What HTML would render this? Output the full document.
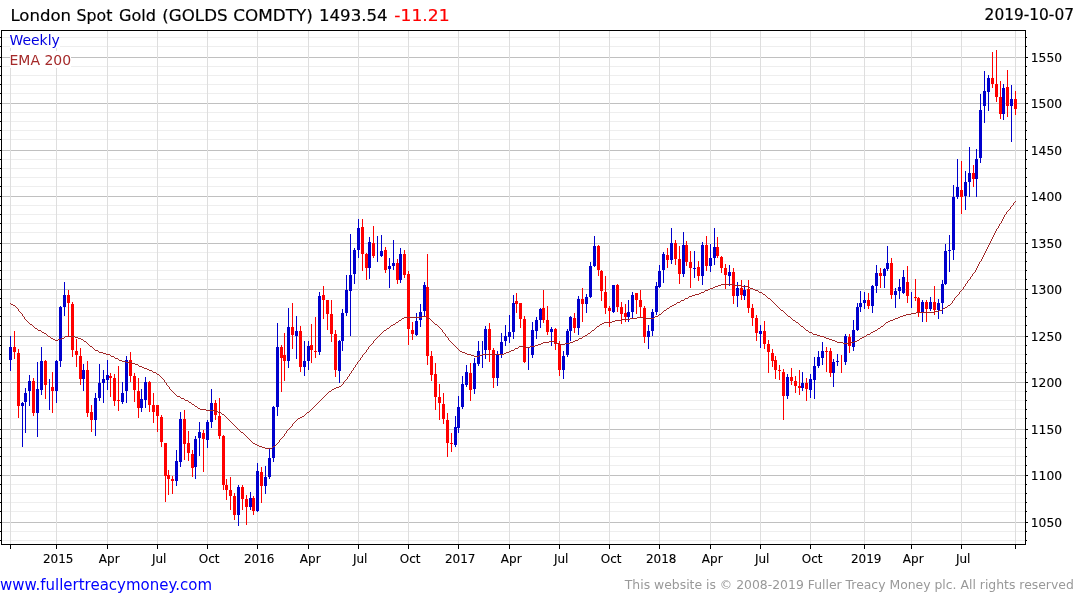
<!DOCTYPE html>
<html><head><meta charset="utf-8"><title>London Spot Gold</title>
<style>html,body{margin:0;padding:0;background:#fff}body{width:1075px;height:600px;overflow:hidden}svg{display:block}text{font-family:"DejaVu Sans", "Liberation Sans", sans-serif}</style></head><body>
<svg width="1075" height="600" viewBox="0 0 1075 600">
<rect width="1075" height="600" fill="#fff"/>
<g shape-rendering="crispEdges">
<rect x="2" y="37" width="1023" height="1" fill="#eeeeee"/>
<rect x="2" y="46" width="1023" height="1" fill="#eeeeee"/>
<rect x="2" y="66" width="1023" height="1" fill="#eeeeee"/>
<rect x="2" y="75" width="1023" height="1" fill="#eeeeee"/>
<rect x="2" y="84" width="1023" height="1" fill="#eeeeee"/>
<rect x="2" y="93" width="1023" height="1" fill="#eeeeee"/>
<rect x="2" y="112" width="1023" height="1" fill="#eeeeee"/>
<rect x="2" y="121" width="1023" height="1" fill="#eeeeee"/>
<rect x="2" y="130" width="1023" height="1" fill="#eeeeee"/>
<rect x="2" y="139" width="1023" height="1" fill="#eeeeee"/>
<rect x="2" y="159" width="1023" height="1" fill="#eeeeee"/>
<rect x="2" y="168" width="1023" height="1" fill="#eeeeee"/>
<rect x="2" y="177" width="1023" height="1" fill="#eeeeee"/>
<rect x="2" y="186" width="1023" height="1" fill="#eeeeee"/>
<rect x="2" y="205" width="1023" height="1" fill="#eeeeee"/>
<rect x="2" y="214" width="1023" height="1" fill="#eeeeee"/>
<rect x="2" y="223" width="1023" height="1" fill="#eeeeee"/>
<rect x="2" y="232" width="1023" height="1" fill="#eeeeee"/>
<rect x="2" y="252" width="1023" height="1" fill="#eeeeee"/>
<rect x="2" y="261" width="1023" height="1" fill="#eeeeee"/>
<rect x="2" y="270" width="1023" height="1" fill="#eeeeee"/>
<rect x="2" y="279" width="1023" height="1" fill="#eeeeee"/>
<rect x="2" y="298" width="1023" height="1" fill="#eeeeee"/>
<rect x="2" y="307" width="1023" height="1" fill="#eeeeee"/>
<rect x="2" y="316" width="1023" height="1" fill="#eeeeee"/>
<rect x="2" y="325" width="1023" height="1" fill="#eeeeee"/>
<rect x="2" y="345" width="1023" height="1" fill="#eeeeee"/>
<rect x="2" y="354" width="1023" height="1" fill="#eeeeee"/>
<rect x="2" y="363" width="1023" height="1" fill="#eeeeee"/>
<rect x="2" y="372" width="1023" height="1" fill="#eeeeee"/>
<rect x="2" y="391" width="1023" height="1" fill="#eeeeee"/>
<rect x="2" y="400" width="1023" height="1" fill="#eeeeee"/>
<rect x="2" y="409" width="1023" height="1" fill="#eeeeee"/>
<rect x="2" y="418" width="1023" height="1" fill="#eeeeee"/>
<rect x="2" y="438" width="1023" height="1" fill="#eeeeee"/>
<rect x="2" y="447" width="1023" height="1" fill="#eeeeee"/>
<rect x="2" y="456" width="1023" height="1" fill="#eeeeee"/>
<rect x="2" y="465" width="1023" height="1" fill="#eeeeee"/>
<rect x="2" y="484" width="1023" height="1" fill="#eeeeee"/>
<rect x="2" y="493" width="1023" height="1" fill="#eeeeee"/>
<rect x="2" y="502" width="1023" height="1" fill="#eeeeee"/>
<rect x="2" y="511" width="1023" height="1" fill="#eeeeee"/>
<rect x="2" y="531" width="1023" height="1" fill="#eeeeee"/>
<rect x="2" y="540" width="1023" height="1" fill="#eeeeee"/>
<rect x="2" y="57" width="1023" height="1" fill="#c0c0c0"/>
<rect x="2" y="103" width="1023" height="1" fill="#c0c0c0"/>
<rect x="2" y="150" width="1023" height="1" fill="#c0c0c0"/>
<rect x="2" y="196" width="1023" height="1" fill="#c0c0c0"/>
<rect x="2" y="243" width="1023" height="1" fill="#c0c0c0"/>
<rect x="2" y="289" width="1023" height="1" fill="#c0c0c0"/>
<rect x="2" y="336" width="1023" height="1" fill="#c0c0c0"/>
<rect x="2" y="382" width="1023" height="1" fill="#c0c0c0"/>
<rect x="2" y="429" width="1023" height="1" fill="#c0c0c0"/>
<rect x="2" y="475" width="1023" height="1" fill="#c0c0c0"/>
<rect x="2" y="522" width="1023" height="1" fill="#c0c0c0"/>
<rect x="10" y="31" width="1" height="513" fill="#dedede"/>
<rect x="56" y="31" width="1" height="513" fill="#dedede"/>
<rect x="107" y="31" width="1" height="513" fill="#dedede"/>
<rect x="157" y="31" width="1" height="513" fill="#dedede"/>
<rect x="207" y="31" width="1" height="513" fill="#dedede"/>
<rect x="257" y="31" width="1" height="513" fill="#dedede"/>
<rect x="308" y="31" width="1" height="513" fill="#dedede"/>
<rect x="358" y="31" width="1" height="513" fill="#dedede"/>
<rect x="408" y="31" width="1" height="513" fill="#dedede"/>
<rect x="458" y="31" width="1" height="513" fill="#dedede"/>
<rect x="509" y="31" width="1" height="513" fill="#dedede"/>
<rect x="559" y="31" width="1" height="513" fill="#dedede"/>
<rect x="609" y="31" width="1" height="513" fill="#dedede"/>
<rect x="659" y="31" width="1" height="513" fill="#dedede"/>
<rect x="710" y="31" width="1" height="513" fill="#dedede"/>
<rect x="760" y="31" width="1" height="513" fill="#dedede"/>
<rect x="810" y="31" width="1" height="513" fill="#dedede"/>
<rect x="864" y="31" width="1" height="513" fill="#dedede"/>
<rect x="911" y="31" width="1" height="513" fill="#dedede"/>
<rect x="961" y="31" width="1" height="513" fill="#dedede"/>
<rect x="1015" y="31" width="1" height="513" fill="#dedede"/>
</g>
<rect x="10" y="31" width="50" height="17" fill="#fff"/>
<rect x="10" y="51" width="61" height="17" fill="#fff"/>
<g shape-rendering="crispEdges">
<rect x="10" y="336" width="1" height="35" fill="#0000cd"/>
<rect x="9" y="347" width="3" height="13" fill="#0000cd"/>
<rect x="14" y="331" width="1" height="28" fill="#ff0000"/>
<rect x="13" y="347" width="3" height="5" fill="#ff0000"/>
<rect x="18" y="349" width="1" height="69" fill="#ff0000"/>
<rect x="17" y="353" width="3" height="53" fill="#ff0000"/>
<rect x="22" y="402" width="1" height="45" fill="#0000cd"/>
<rect x="21" y="403" width="3" height="3" fill="#0000cd"/>
<rect x="25" y="388" width="1" height="45" fill="#0000cd"/>
<rect x="24" y="393" width="3" height="9" fill="#0000cd"/>
<rect x="29" y="375" width="1" height="31" fill="#0000cd"/>
<rect x="28" y="381" width="3" height="10" fill="#0000cd"/>
<rect x="33" y="378" width="1" height="38" fill="#ff0000"/>
<rect x="32" y="381" width="3" height="32" fill="#ff0000"/>
<rect x="37" y="362" width="1" height="75" fill="#0000cd"/>
<rect x="36" y="389" width="3" height="24" fill="#0000cd"/>
<rect x="41" y="347" width="1" height="48" fill="#0000cd"/>
<rect x="40" y="361" width="3" height="29" fill="#0000cd"/>
<rect x="45" y="360" width="1" height="39" fill="#ff0000"/>
<rect x="44" y="361" width="3" height="24" fill="#ff0000"/>
<rect x="49" y="379" width="1" height="31" fill="#0000cd"/>
<rect x="52" y="372" width="1" height="41" fill="#ff0000"/>
<rect x="51" y="387" width="3" height="4" fill="#ff0000"/>
<rect x="56" y="360" width="1" height="43" fill="#0000cd"/>
<rect x="55" y="361" width="3" height="30" fill="#0000cd"/>
<rect x="60" y="306" width="1" height="61" fill="#0000cd"/>
<rect x="59" y="307" width="3" height="54" fill="#0000cd"/>
<rect x="64" y="282" width="1" height="34" fill="#0000cd"/>
<rect x="63" y="295" width="3" height="12" fill="#0000cd"/>
<rect x="68" y="290" width="1" height="46" fill="#ff0000"/>
<rect x="67" y="295" width="3" height="8" fill="#ff0000"/>
<rect x="72" y="302" width="1" height="55" fill="#ff0000"/>
<rect x="71" y="304" width="3" height="46" fill="#ff0000"/>
<rect x="76" y="339" width="1" height="28" fill="#ff0000"/>
<rect x="75" y="351" width="3" height="4" fill="#ff0000"/>
<rect x="80" y="348" width="1" height="37" fill="#ff0000"/>
<rect x="79" y="356" width="3" height="23" fill="#ff0000"/>
<rect x="83" y="364" width="1" height="27" fill="#0000cd"/>
<rect x="82" y="370" width="3" height="9" fill="#0000cd"/>
<rect x="87" y="361" width="1" height="56" fill="#ff0000"/>
<rect x="86" y="370" width="3" height="43" fill="#ff0000"/>
<rect x="91" y="405" width="1" height="27" fill="#ff0000"/>
<rect x="90" y="412" width="3" height="8" fill="#ff0000"/>
<rect x="95" y="393" width="1" height="43" fill="#0000cd"/>
<rect x="94" y="398" width="3" height="22" fill="#0000cd"/>
<rect x="99" y="364" width="1" height="37" fill="#0000cd"/>
<rect x="98" y="383" width="3" height="15" fill="#0000cd"/>
<rect x="103" y="370" width="1" height="33" fill="#0000cd"/>
<rect x="102" y="379" width="3" height="4" fill="#0000cd"/>
<rect x="107" y="360" width="1" height="30" fill="#0000cd"/>
<rect x="106" y="375" width="3" height="5" fill="#0000cd"/>
<rect x="110" y="373" width="1" height="24" fill="#ff0000"/>
<rect x="109" y="376" width="3" height="2" fill="#ff0000"/>
<rect x="114" y="374" width="1" height="32" fill="#ff0000"/>
<rect x="113" y="378" width="3" height="23" fill="#ff0000"/>
<rect x="118" y="366" width="1" height="45" fill="#ff0000"/>
<rect x="117" y="400" width="3" height="1" fill="#ff0000"/>
<rect x="122" y="382" width="1" height="22" fill="#0000cd"/>
<rect x="121" y="393" width="3" height="9" fill="#0000cd"/>
<rect x="126" y="356" width="1" height="47" fill="#0000cd"/>
<rect x="125" y="360" width="3" height="31" fill="#0000cd"/>
<rect x="130" y="352" width="1" height="30" fill="#ff0000"/>
<rect x="129" y="360" width="3" height="16" fill="#ff0000"/>
<rect x="134" y="373" width="1" height="29" fill="#ff0000"/>
<rect x="133" y="376" width="3" height="14" fill="#ff0000"/>
<rect x="138" y="378" width="1" height="40" fill="#ff0000"/>
<rect x="137" y="391" width="3" height="17" fill="#ff0000"/>
<rect x="141" y="389" width="1" height="23" fill="#0000cd"/>
<rect x="140" y="399" width="3" height="9" fill="#0000cd"/>
<rect x="145" y="377" width="1" height="31" fill="#0000cd"/>
<rect x="144" y="382" width="3" height="18" fill="#0000cd"/>
<rect x="149" y="381" width="1" height="31" fill="#ff0000"/>
<rect x="148" y="382" width="3" height="23" fill="#ff0000"/>
<rect x="153" y="393" width="1" height="30" fill="#ff0000"/>
<rect x="152" y="405" width="3" height="7" fill="#ff0000"/>
<rect x="157" y="405" width="1" height="27" fill="#ff0000"/>
<rect x="156" y="405" width="3" height="11" fill="#ff0000"/>
<rect x="161" y="415" width="1" height="32" fill="#ff0000"/>
<rect x="160" y="417" width="3" height="25" fill="#ff0000"/>
<rect x="165" y="443" width="1" height="59" fill="#ff0000"/>
<rect x="164" y="443" width="3" height="33" fill="#ff0000"/>
<rect x="168" y="470" width="1" height="25" fill="#ff0000"/>
<rect x="167" y="475" width="3" height="4" fill="#ff0000"/>
<rect x="172" y="476" width="1" height="18" fill="#ff0000"/>
<rect x="171" y="479" width="3" height="2" fill="#ff0000"/>
<rect x="176" y="450" width="1" height="36" fill="#0000cd"/>
<rect x="175" y="461" width="3" height="20" fill="#0000cd"/>
<rect x="180" y="412" width="1" height="55" fill="#0000cd"/>
<rect x="179" y="419" width="3" height="43" fill="#0000cd"/>
<rect x="184" y="410" width="1" height="50" fill="#ff0000"/>
<rect x="183" y="419" width="3" height="25" fill="#ff0000"/>
<rect x="188" y="431" width="1" height="30" fill="#ff0000"/>
<rect x="187" y="443" width="3" height="10" fill="#ff0000"/>
<rect x="192" y="450" width="1" height="27" fill="#ff0000"/>
<rect x="191" y="454" width="3" height="14" fill="#ff0000"/>
<rect x="195" y="436" width="1" height="43" fill="#0000cd"/>
<rect x="194" y="439" width="3" height="28" fill="#0000cd"/>
<rect x="199" y="422" width="1" height="34" fill="#0000cd"/>
<rect x="198" y="432" width="3" height="6" fill="#0000cd"/>
<rect x="203" y="430" width="1" height="42" fill="#ff0000"/>
<rect x="202" y="433" width="3" height="6" fill="#ff0000"/>
<rect x="207" y="420" width="1" height="28" fill="#0000cd"/>
<rect x="206" y="422" width="3" height="18" fill="#0000cd"/>
<rect x="211" y="389" width="1" height="39" fill="#0000cd"/>
<rect x="210" y="403" width="3" height="19" fill="#0000cd"/>
<rect x="215" y="400" width="1" height="20" fill="#ff0000"/>
<rect x="214" y="403" width="3" height="12" fill="#ff0000"/>
<rect x="219" y="398" width="1" height="41" fill="#ff0000"/>
<rect x="218" y="416" width="3" height="20" fill="#ff0000"/>
<rect x="223" y="435" width="1" height="55" fill="#ff0000"/>
<rect x="222" y="436" width="3" height="49" fill="#ff0000"/>
<rect x="226" y="479" width="1" height="21" fill="#ff0000"/>
<rect x="225" y="485" width="3" height="5" fill="#ff0000"/>
<rect x="230" y="477" width="1" height="33" fill="#ff0000"/>
<rect x="229" y="490" width="3" height="6" fill="#ff0000"/>
<rect x="234" y="493" width="1" height="27" fill="#ff0000"/>
<rect x="233" y="496" width="3" height="19" fill="#ff0000"/>
<rect x="238" y="485" width="1" height="41" fill="#0000cd"/>
<rect x="237" y="487" width="3" height="28" fill="#0000cd"/>
<rect x="242" y="485" width="1" height="25" fill="#ff0000"/>
<rect x="241" y="487" width="3" height="12" fill="#ff0000"/>
<rect x="246" y="495" width="1" height="30" fill="#ff0000"/>
<rect x="245" y="499" width="3" height="8" fill="#ff0000"/>
<rect x="250" y="492" width="1" height="18" fill="#0000cd"/>
<rect x="249" y="498" width="3" height="9" fill="#0000cd"/>
<rect x="253" y="496" width="1" height="19" fill="#ff0000"/>
<rect x="252" y="498" width="3" height="13" fill="#ff0000"/>
<rect x="257" y="463" width="1" height="49" fill="#0000cd"/>
<rect x="256" y="471" width="3" height="40" fill="#0000cd"/>
<rect x="261" y="467" width="1" height="36" fill="#ff0000"/>
<rect x="260" y="472" width="3" height="14" fill="#ff0000"/>
<rect x="265" y="466" width="1" height="28" fill="#0000cd"/>
<rect x="264" y="477" width="3" height="9" fill="#0000cd"/>
<rect x="269" y="448" width="1" height="31" fill="#0000cd"/>
<rect x="268" y="458" width="3" height="19" fill="#0000cd"/>
<rect x="273" y="406" width="1" height="56" fill="#0000cd"/>
<rect x="272" y="407" width="3" height="51" fill="#0000cd"/>
<rect x="277" y="323" width="1" height="93" fill="#0000cd"/>
<rect x="276" y="347" width="3" height="60" fill="#0000cd"/>
<rect x="281" y="345" width="1" height="47" fill="#ff0000"/>
<rect x="280" y="347" width="3" height="11" fill="#ff0000"/>
<rect x="284" y="333" width="1" height="48" fill="#ff0000"/>
<rect x="283" y="355" width="3" height="6" fill="#ff0000"/>
<rect x="288" y="308" width="1" height="60" fill="#0000cd"/>
<rect x="287" y="327" width="3" height="34" fill="#0000cd"/>
<rect x="292" y="303" width="1" height="46" fill="#ff0000"/>
<rect x="291" y="327" width="3" height="8" fill="#ff0000"/>
<rect x="296" y="316" width="1" height="43" fill="#0000cd"/>
<rect x="295" y="331" width="3" height="5" fill="#0000cd"/>
<rect x="300" y="326" width="1" height="46" fill="#ff0000"/>
<rect x="299" y="331" width="3" height="36" fill="#ff0000"/>
<rect x="304" y="341" width="1" height="35" fill="#0000cd"/>
<rect x="303" y="361" width="3" height="6" fill="#0000cd"/>
<rect x="308" y="341" width="1" height="29" fill="#0000cd"/>
<rect x="307" y="346" width="3" height="15" fill="#0000cd"/>
<rect x="311" y="324" width="1" height="39" fill="#ff0000"/>
<rect x="310" y="345" width="3" height="5" fill="#ff0000"/>
<rect x="315" y="317" width="1" height="41" fill="#ff0000"/>
<rect x="314" y="351" width="3" height="1" fill="#ff0000"/>
<rect x="319" y="292" width="1" height="63" fill="#0000cd"/>
<rect x="318" y="296" width="3" height="56" fill="#0000cd"/>
<rect x="323" y="286" width="1" height="33" fill="#ff0000"/>
<rect x="322" y="295" width="3" height="5" fill="#ff0000"/>
<rect x="327" y="300" width="1" height="30" fill="#ff0000"/>
<rect x="326" y="300" width="3" height="14" fill="#ff0000"/>
<rect x="331" y="300" width="1" height="42" fill="#ff0000"/>
<rect x="330" y="314" width="3" height="20" fill="#ff0000"/>
<rect x="335" y="330" width="1" height="47" fill="#ff0000"/>
<rect x="334" y="334" width="3" height="36" fill="#ff0000"/>
<rect x="339" y="340" width="1" height="43" fill="#0000cd"/>
<rect x="338" y="341" width="3" height="30" fill="#0000cd"/>
<rect x="342" y="309" width="1" height="42" fill="#0000cd"/>
<rect x="341" y="313" width="3" height="28" fill="#0000cd"/>
<rect x="346" y="275" width="1" height="41" fill="#0000cd"/>
<rect x="345" y="290" width="3" height="23" fill="#0000cd"/>
<rect x="350" y="234" width="1" height="102" fill="#0000cd"/>
<rect x="349" y="275" width="3" height="16" fill="#0000cd"/>
<rect x="354" y="248" width="1" height="36" fill="#0000cd"/>
<rect x="353" y="250" width="3" height="24" fill="#0000cd"/>
<rect x="358" y="219" width="1" height="39" fill="#0000cd"/>
<rect x="357" y="228" width="3" height="22" fill="#0000cd"/>
<rect x="362" y="219" width="1" height="52" fill="#ff0000"/>
<rect x="361" y="227" width="3" height="27" fill="#ff0000"/>
<rect x="366" y="253" width="1" height="27" fill="#ff0000"/>
<rect x="365" y="254" width="3" height="14" fill="#ff0000"/>
<rect x="369" y="237" width="1" height="42" fill="#0000cd"/>
<rect x="368" y="242" width="3" height="26" fill="#0000cd"/>
<rect x="373" y="226" width="1" height="32" fill="#ff0000"/>
<rect x="372" y="243" width="3" height="13" fill="#ff0000"/>
<rect x="377" y="236" width="1" height="26" fill="#0000cd"/>
<rect x="381" y="235" width="1" height="22" fill="#0000cd"/>
<rect x="380" y="251" width="3" height="5" fill="#0000cd"/>
<rect x="385" y="247" width="1" height="26" fill="#ff0000"/>
<rect x="384" y="250" width="3" height="20" fill="#ff0000"/>
<rect x="389" y="258" width="1" height="30" fill="#0000cd"/>
<rect x="388" y="266" width="3" height="3" fill="#0000cd"/>
<rect x="393" y="240" width="1" height="30" fill="#0000cd"/>
<rect x="392" y="263" width="3" height="3" fill="#0000cd"/>
<rect x="397" y="259" width="1" height="25" fill="#ff0000"/>
<rect x="396" y="263" width="3" height="17" fill="#ff0000"/>
<rect x="400" y="248" width="1" height="35" fill="#0000cd"/>
<rect x="399" y="254" width="3" height="26" fill="#0000cd"/>
<rect x="404" y="250" width="1" height="28" fill="#ff0000"/>
<rect x="403" y="254" width="3" height="21" fill="#ff0000"/>
<rect x="408" y="271" width="1" height="74" fill="#ff0000"/>
<rect x="407" y="274" width="3" height="55" fill="#ff0000"/>
<rect x="412" y="322" width="1" height="18" fill="#ff0000"/>
<rect x="411" y="330" width="3" height="4" fill="#ff0000"/>
<rect x="416" y="313" width="1" height="23" fill="#0000cd"/>
<rect x="415" y="321" width="3" height="14" fill="#0000cd"/>
<rect x="420" y="304" width="1" height="23" fill="#0000cd"/>
<rect x="419" y="312" width="3" height="8" fill="#0000cd"/>
<rect x="424" y="282" width="1" height="34" fill="#0000cd"/>
<rect x="423" y="285" width="3" height="26" fill="#0000cd"/>
<rect x="427" y="254" width="1" height="111" fill="#ff0000"/>
<rect x="426" y="287" width="3" height="69" fill="#ff0000"/>
<rect x="431" y="351" width="1" height="30" fill="#ff0000"/>
<rect x="430" y="356" width="3" height="19" fill="#ff0000"/>
<rect x="435" y="363" width="1" height="47" fill="#ff0000"/>
<rect x="434" y="374" width="3" height="23" fill="#ff0000"/>
<rect x="439" y="384" width="1" height="36" fill="#ff0000"/>
<rect x="438" y="397" width="3" height="6" fill="#ff0000"/>
<rect x="443" y="393" width="1" height="31" fill="#ff0000"/>
<rect x="442" y="404" width="3" height="15" fill="#ff0000"/>
<rect x="447" y="413" width="1" height="44" fill="#ff0000"/>
<rect x="446" y="420" width="3" height="23" fill="#ff0000"/>
<rect x="451" y="433" width="1" height="19" fill="#ff0000"/>
<rect x="450" y="443" width="3" height="1" fill="#ff0000"/>
<rect x="455" y="416" width="1" height="31" fill="#0000cd"/>
<rect x="454" y="427" width="3" height="18" fill="#0000cd"/>
<rect x="458" y="396" width="1" height="37" fill="#0000cd"/>
<rect x="457" y="407" width="3" height="21" fill="#0000cd"/>
<rect x="462" y="376" width="1" height="33" fill="#0000cd"/>
<rect x="461" y="384" width="3" height="23" fill="#0000cd"/>
<rect x="466" y="365" width="1" height="22" fill="#0000cd"/>
<rect x="465" y="372" width="3" height="13" fill="#0000cd"/>
<rect x="470" y="363" width="1" height="38" fill="#ff0000"/>
<rect x="469" y="373" width="3" height="17" fill="#ff0000"/>
<rect x="474" y="358" width="1" height="36" fill="#0000cd"/>
<rect x="473" y="363" width="3" height="26" fill="#0000cd"/>
<rect x="478" y="341" width="1" height="25" fill="#0000cd"/>
<rect x="477" y="351" width="3" height="13" fill="#0000cd"/>
<rect x="482" y="341" width="1" height="27" fill="#0000cd"/>
<rect x="485" y="326" width="1" height="33" fill="#0000cd"/>
<rect x="484" y="329" width="3" height="21" fill="#0000cd"/>
<rect x="489" y="323" width="1" height="39" fill="#ff0000"/>
<rect x="488" y="329" width="3" height="21" fill="#ff0000"/>
<rect x="493" y="348" width="1" height="40" fill="#ff0000"/>
<rect x="492" y="350" width="3" height="28" fill="#ff0000"/>
<rect x="497" y="351" width="1" height="35" fill="#0000cd"/>
<rect x="496" y="354" width="3" height="24" fill="#0000cd"/>
<rect x="501" y="333" width="1" height="25" fill="#0000cd"/>
<rect x="500" y="342" width="3" height="12" fill="#0000cd"/>
<rect x="505" y="325" width="1" height="21" fill="#0000cd"/>
<rect x="504" y="336" width="3" height="5" fill="#0000cd"/>
<rect x="509" y="315" width="1" height="28" fill="#0000cd"/>
<rect x="508" y="332" width="3" height="5" fill="#0000cd"/>
<rect x="513" y="295" width="1" height="44" fill="#0000cd"/>
<rect x="512" y="303" width="3" height="29" fill="#0000cd"/>
<rect x="516" y="293" width="1" height="20" fill="#ff0000"/>
<rect x="515" y="301" width="3" height="3" fill="#ff0000"/>
<rect x="520" y="303" width="1" height="25" fill="#ff0000"/>
<rect x="519" y="303" width="3" height="16" fill="#ff0000"/>
<rect x="524" y="316" width="1" height="47" fill="#ff0000"/>
<rect x="523" y="319" width="3" height="43" fill="#ff0000"/>
<rect x="528" y="347" width="1" height="23" fill="#0000cd"/>
<rect x="532" y="322" width="1" height="36" fill="#0000cd"/>
<rect x="531" y="330" width="3" height="25" fill="#0000cd"/>
<rect x="536" y="317" width="1" height="22" fill="#0000cd"/>
<rect x="535" y="320" width="3" height="11" fill="#0000cd"/>
<rect x="540" y="308" width="1" height="20" fill="#0000cd"/>
<rect x="539" y="309" width="3" height="11" fill="#0000cd"/>
<rect x="543" y="290" width="1" height="33" fill="#ff0000"/>
<rect x="542" y="308" width="3" height="12" fill="#ff0000"/>
<rect x="547" y="306" width="1" height="29" fill="#ff0000"/>
<rect x="546" y="320" width="3" height="12" fill="#ff0000"/>
<rect x="551" y="327" width="1" height="19" fill="#0000cd"/>
<rect x="550" y="329" width="3" height="3" fill="#0000cd"/>
<rect x="555" y="328" width="1" height="22" fill="#ff0000"/>
<rect x="554" y="329" width="3" height="15" fill="#ff0000"/>
<rect x="559" y="341" width="1" height="35" fill="#ff0000"/>
<rect x="558" y="344" width="3" height="26" fill="#ff0000"/>
<rect x="563" y="351" width="1" height="28" fill="#0000cd"/>
<rect x="562" y="356" width="3" height="14" fill="#0000cd"/>
<rect x="567" y="329" width="1" height="28" fill="#0000cd"/>
<rect x="566" y="331" width="3" height="24" fill="#0000cd"/>
<rect x="570" y="316" width="1" height="25" fill="#0000cd"/>
<rect x="569" y="317" width="3" height="14" fill="#0000cd"/>
<rect x="574" y="313" width="1" height="20" fill="#ff0000"/>
<rect x="573" y="318" width="3" height="10" fill="#ff0000"/>
<rect x="578" y="296" width="1" height="39" fill="#0000cd"/>
<rect x="577" y="299" width="3" height="29" fill="#0000cd"/>
<rect x="582" y="288" width="1" height="34" fill="#ff0000"/>
<rect x="581" y="299" width="3" height="5" fill="#ff0000"/>
<rect x="586" y="294" width="1" height="19" fill="#0000cd"/>
<rect x="585" y="297" width="3" height="7" fill="#0000cd"/>
<rect x="590" y="262" width="1" height="36" fill="#0000cd"/>
<rect x="589" y="266" width="3" height="31" fill="#0000cd"/>
<rect x="594" y="236" width="1" height="31" fill="#0000cd"/>
<rect x="593" y="246" width="3" height="20" fill="#0000cd"/>
<rect x="598" y="245" width="1" height="31" fill="#ff0000"/>
<rect x="597" y="246" width="3" height="24" fill="#ff0000"/>
<rect x="601" y="270" width="1" height="31" fill="#ff0000"/>
<rect x="600" y="271" width="3" height="20" fill="#ff0000"/>
<rect x="605" y="276" width="1" height="38" fill="#ff0000"/>
<rect x="604" y="292" width="3" height="16" fill="#ff0000"/>
<rect x="609" y="306" width="1" height="21" fill="#ff0000"/>
<rect x="608" y="308" width="3" height="3" fill="#ff0000"/>
<rect x="613" y="285" width="1" height="28" fill="#0000cd"/>
<rect x="612" y="285" width="3" height="27" fill="#0000cd"/>
<rect x="617" y="284" width="1" height="28" fill="#ff0000"/>
<rect x="616" y="285" width="3" height="22" fill="#ff0000"/>
<rect x="621" y="302" width="1" height="22" fill="#ff0000"/>
<rect x="620" y="307" width="3" height="7" fill="#ff0000"/>
<rect x="625" y="304" width="1" height="18" fill="#ff0000"/>
<rect x="624" y="313" width="3" height="4" fill="#ff0000"/>
<rect x="628" y="300" width="1" height="22" fill="#0000cd"/>
<rect x="627" y="312" width="3" height="5" fill="#0000cd"/>
<rect x="632" y="292" width="1" height="26" fill="#0000cd"/>
<rect x="631" y="295" width="3" height="17" fill="#0000cd"/>
<rect x="636" y="293" width="1" height="21" fill="#ff0000"/>
<rect x="635" y="293" width="3" height="7" fill="#ff0000"/>
<rect x="640" y="290" width="1" height="28" fill="#ff0000"/>
<rect x="639" y="300" width="3" height="7" fill="#ff0000"/>
<rect x="644" y="306" width="1" height="37" fill="#ff0000"/>
<rect x="643" y="308" width="3" height="29" fill="#ff0000"/>
<rect x="648" y="325" width="1" height="24" fill="#0000cd"/>
<rect x="647" y="331" width="3" height="6" fill="#0000cd"/>
<rect x="652" y="309" width="1" height="27" fill="#0000cd"/>
<rect x="651" y="312" width="3" height="19" fill="#0000cd"/>
<rect x="656" y="282" width="1" height="33" fill="#0000cd"/>
<rect x="655" y="286" width="3" height="26" fill="#0000cd"/>
<rect x="659" y="265" width="1" height="23" fill="#0000cd"/>
<rect x="658" y="271" width="3" height="16" fill="#0000cd"/>
<rect x="663" y="252" width="1" height="31" fill="#0000cd"/>
<rect x="662" y="254" width="3" height="16" fill="#0000cd"/>
<rect x="667" y="248" width="1" height="20" fill="#ff0000"/>
<rect x="666" y="255" width="3" height="5" fill="#ff0000"/>
<rect x="671" y="228" width="1" height="36" fill="#0000cd"/>
<rect x="670" y="243" width="3" height="17" fill="#0000cd"/>
<rect x="675" y="240" width="1" height="25" fill="#ff0000"/>
<rect x="674" y="243" width="3" height="16" fill="#ff0000"/>
<rect x="679" y="246" width="1" height="38" fill="#ff0000"/>
<rect x="678" y="259" width="3" height="15" fill="#ff0000"/>
<rect x="683" y="232" width="1" height="45" fill="#0000cd"/>
<rect x="682" y="245" width="3" height="29" fill="#0000cd"/>
<rect x="686" y="241" width="1" height="25" fill="#ff0000"/>
<rect x="685" y="245" width="3" height="17" fill="#ff0000"/>
<rect x="690" y="251" width="1" height="37" fill="#ff0000"/>
<rect x="689" y="262" width="3" height="6" fill="#ff0000"/>
<rect x="694" y="251" width="1" height="27" fill="#0000cd"/>
<rect x="693" y="268" width="3" height="1" fill="#0000cd"/>
<rect x="698" y="261" width="1" height="20" fill="#ff0000"/>
<rect x="697" y="267" width="3" height="9" fill="#ff0000"/>
<rect x="702" y="242" width="1" height="43" fill="#0000cd"/>
<rect x="701" y="245" width="3" height="31" fill="#0000cd"/>
<rect x="706" y="236" width="1" height="35" fill="#ff0000"/>
<rect x="705" y="245" width="3" height="21" fill="#ff0000"/>
<rect x="710" y="244" width="1" height="28" fill="#0000cd"/>
<rect x="709" y="258" width="3" height="8" fill="#0000cd"/>
<rect x="714" y="228" width="1" height="37" fill="#0000cd"/>
<rect x="713" y="247" width="3" height="11" fill="#0000cd"/>
<rect x="717" y="237" width="1" height="21" fill="#ff0000"/>
<rect x="716" y="247" width="3" height="9" fill="#ff0000"/>
<rect x="721" y="256" width="1" height="17" fill="#ff0000"/>
<rect x="720" y="257" width="3" height="11" fill="#ff0000"/>
<rect x="725" y="264" width="1" height="25" fill="#ff0000"/>
<rect x="724" y="268" width="3" height="7" fill="#ff0000"/>
<rect x="729" y="265" width="1" height="21" fill="#0000cd"/>
<rect x="728" y="272" width="3" height="4" fill="#0000cd"/>
<rect x="733" y="268" width="1" height="36" fill="#ff0000"/>
<rect x="732" y="272" width="3" height="24" fill="#ff0000"/>
<rect x="737" y="282" width="1" height="25" fill="#0000cd"/>
<rect x="736" y="288" width="3" height="8" fill="#0000cd"/>
<rect x="741" y="280" width="1" height="20" fill="#ff0000"/>
<rect x="740" y="288" width="3" height="7" fill="#ff0000"/>
<rect x="744" y="285" width="1" height="15" fill="#0000cd"/>
<rect x="743" y="290" width="3" height="6" fill="#0000cd"/>
<rect x="748" y="280" width="1" height="33" fill="#ff0000"/>
<rect x="747" y="289" width="3" height="19" fill="#ff0000"/>
<rect x="752" y="304" width="1" height="22" fill="#ff0000"/>
<rect x="751" y="308" width="3" height="10" fill="#ff0000"/>
<rect x="756" y="315" width="1" height="26" fill="#ff0000"/>
<rect x="755" y="318" width="3" height="15" fill="#ff0000"/>
<rect x="760" y="325" width="1" height="23" fill="#0000cd"/>
<rect x="759" y="331" width="3" height="3" fill="#0000cd"/>
<rect x="764" y="321" width="1" height="28" fill="#ff0000"/>
<rect x="763" y="331" width="3" height="13" fill="#ff0000"/>
<rect x="768" y="340" width="1" height="33" fill="#ff0000"/>
<rect x="767" y="344" width="3" height="8" fill="#ff0000"/>
<rect x="772" y="349" width="1" height="18" fill="#ff0000"/>
<rect x="771" y="353" width="3" height="8" fill="#ff0000"/>
<rect x="775" y="356" width="1" height="23" fill="#ff0000"/>
<rect x="774" y="360" width="3" height="10" fill="#ff0000"/>
<rect x="779" y="365" width="1" height="15" fill="#ff0000"/>
<rect x="778" y="370" width="3" height="1" fill="#ff0000"/>
<rect x="783" y="369" width="1" height="51" fill="#ff0000"/>
<rect x="782" y="372" width="3" height="24" fill="#ff0000"/>
<rect x="787" y="374" width="1" height="25" fill="#0000cd"/>
<rect x="786" y="377" width="3" height="19" fill="#0000cd"/>
<rect x="791" y="368" width="1" height="17" fill="#ff0000"/>
<rect x="790" y="377" width="3" height="4" fill="#ff0000"/>
<rect x="795" y="376" width="1" height="17" fill="#ff0000"/>
<rect x="794" y="381" width="3" height="5" fill="#ff0000"/>
<rect x="799" y="370" width="1" height="25" fill="#ff0000"/>
<rect x="798" y="386" width="3" height="2" fill="#ff0000"/>
<rect x="802" y="372" width="1" height="19" fill="#0000cd"/>
<rect x="801" y="383" width="3" height="5" fill="#0000cd"/>
<rect x="806" y="378" width="1" height="23" fill="#ff0000"/>
<rect x="805" y="383" width="3" height="6" fill="#ff0000"/>
<rect x="810" y="374" width="1" height="24" fill="#0000cd"/>
<rect x="809" y="379" width="3" height="11" fill="#0000cd"/>
<rect x="814" y="357" width="1" height="42" fill="#0000cd"/>
<rect x="813" y="366" width="3" height="14" fill="#0000cd"/>
<rect x="818" y="351" width="1" height="17" fill="#0000cd"/>
<rect x="817" y="357" width="3" height="9" fill="#0000cd"/>
<rect x="822" y="342" width="1" height="23" fill="#0000cd"/>
<rect x="821" y="351" width="3" height="7" fill="#0000cd"/>
<rect x="826" y="347" width="1" height="25" fill="#ff0000"/>
<rect x="825" y="351" width="3" height="1" fill="#ff0000"/>
<rect x="830" y="348" width="1" height="29" fill="#ff0000"/>
<rect x="829" y="351" width="3" height="22" fill="#ff0000"/>
<rect x="833" y="359" width="1" height="28" fill="#0000cd"/>
<rect x="832" y="362" width="3" height="11" fill="#0000cd"/>
<rect x="837" y="354" width="1" height="12" fill="#0000cd"/>
<rect x="836" y="361" width="3" height="1" fill="#0000cd"/>
<rect x="841" y="355" width="1" height="18" fill="#ff0000"/>
<rect x="845" y="334" width="1" height="31" fill="#0000cd"/>
<rect x="844" y="336" width="3" height="26" fill="#0000cd"/>
<rect x="849" y="334" width="1" height="19" fill="#ff0000"/>
<rect x="848" y="337" width="3" height="9" fill="#ff0000"/>
<rect x="853" y="320" width="1" height="31" fill="#0000cd"/>
<rect x="852" y="330" width="3" height="17" fill="#0000cd"/>
<rect x="857" y="303" width="1" height="28" fill="#0000cd"/>
<rect x="856" y="307" width="3" height="23" fill="#0000cd"/>
<rect x="860" y="291" width="1" height="21" fill="#0000cd"/>
<rect x="859" y="303" width="3" height="4" fill="#0000cd"/>
<rect x="864" y="292" width="1" height="17" fill="#0000cd"/>
<rect x="863" y="300" width="3" height="3" fill="#0000cd"/>
<rect x="868" y="293" width="1" height="16" fill="#ff0000"/>
<rect x="867" y="300" width="3" height="6" fill="#ff0000"/>
<rect x="872" y="285" width="1" height="28" fill="#0000cd"/>
<rect x="871" y="286" width="3" height="20" fill="#0000cd"/>
<rect x="876" y="265" width="1" height="28" fill="#0000cd"/>
<rect x="875" y="273" width="3" height="13" fill="#0000cd"/>
<rect x="880" y="268" width="1" height="20" fill="#ff0000"/>
<rect x="879" y="273" width="3" height="3" fill="#ff0000"/>
<rect x="884" y="268" width="1" height="20" fill="#0000cd"/>
<rect x="883" y="269" width="3" height="7" fill="#0000cd"/>
<rect x="887" y="246" width="1" height="25" fill="#0000cd"/>
<rect x="886" y="263" width="3" height="6" fill="#0000cd"/>
<rect x="891" y="258" width="1" height="41" fill="#ff0000"/>
<rect x="890" y="263" width="3" height="32" fill="#ff0000"/>
<rect x="895" y="288" width="1" height="20" fill="#0000cd"/>
<rect x="894" y="291" width="3" height="4" fill="#0000cd"/>
<rect x="899" y="279" width="1" height="20" fill="#0000cd"/>
<rect x="898" y="287" width="3" height="4" fill="#0000cd"/>
<rect x="903" y="270" width="1" height="24" fill="#0000cd"/>
<rect x="902" y="277" width="3" height="16" fill="#0000cd"/>
<rect x="907" y="266" width="1" height="37" fill="#ff0000"/>
<rect x="906" y="282" width="3" height="14" fill="#ff0000"/>
<rect x="911" y="292" width="1" height="16" fill="#0000cd"/>
<rect x="915" y="279" width="1" height="22" fill="#ff0000"/>
<rect x="914" y="297" width="3" height="1" fill="#ff0000"/>
<rect x="918" y="297" width="1" height="20" fill="#ff0000"/>
<rect x="917" y="298" width="3" height="14" fill="#ff0000"/>
<rect x="922" y="300" width="1" height="22" fill="#0000cd"/>
<rect x="921" y="302" width="3" height="10" fill="#0000cd"/>
<rect x="926" y="300" width="1" height="22" fill="#ff0000"/>
<rect x="925" y="302" width="3" height="7" fill="#ff0000"/>
<rect x="930" y="297" width="1" height="14" fill="#0000cd"/>
<rect x="929" y="302" width="3" height="7" fill="#0000cd"/>
<rect x="934" y="286" width="1" height="29" fill="#ff0000"/>
<rect x="933" y="302" width="3" height="8" fill="#ff0000"/>
<rect x="938" y="299" width="1" height="20" fill="#0000cd"/>
<rect x="937" y="303" width="3" height="7" fill="#0000cd"/>
<rect x="942" y="280" width="1" height="34" fill="#0000cd"/>
<rect x="941" y="284" width="3" height="19" fill="#0000cd"/>
<rect x="945" y="244" width="1" height="41" fill="#0000cd"/>
<rect x="944" y="251" width="3" height="33" fill="#0000cd"/>
<rect x="949" y="235" width="1" height="37" fill="#0000cd"/>
<rect x="948" y="250" width="3" height="1" fill="#0000cd"/>
<rect x="953" y="185" width="1" height="75" fill="#0000cd"/>
<rect x="952" y="197" width="3" height="53" fill="#0000cd"/>
<rect x="957" y="159" width="1" height="40" fill="#0000cd"/>
<rect x="956" y="187" width="3" height="10" fill="#0000cd"/>
<rect x="961" y="161" width="1" height="53" fill="#ff0000"/>
<rect x="960" y="190" width="3" height="7" fill="#ff0000"/>
<rect x="965" y="171" width="1" height="39" fill="#0000cd"/>
<rect x="964" y="182" width="3" height="14" fill="#0000cd"/>
<rect x="969" y="147" width="1" height="50" fill="#0000cd"/>
<rect x="968" y="173" width="3" height="9" fill="#0000cd"/>
<rect x="973" y="165" width="1" height="22" fill="#ff0000"/>
<rect x="972" y="173" width="3" height="6" fill="#ff0000"/>
<rect x="976" y="149" width="1" height="48" fill="#0000cd"/>
<rect x="975" y="159" width="3" height="20" fill="#0000cd"/>
<rect x="980" y="94" width="1" height="69" fill="#0000cd"/>
<rect x="979" y="110" width="3" height="48" fill="#0000cd"/>
<rect x="984" y="71" width="1" height="52" fill="#0000cd"/>
<rect x="983" y="91" width="3" height="15" fill="#0000cd"/>
<rect x="988" y="75" width="1" height="36" fill="#0000cd"/>
<rect x="987" y="78" width="3" height="14" fill="#0000cd"/>
<rect x="992" y="52" width="1" height="36" fill="#ff0000"/>
<rect x="991" y="78" width="3" height="6" fill="#ff0000"/>
<rect x="996" y="50" width="1" height="52" fill="#ff0000"/>
<rect x="995" y="84" width="3" height="13" fill="#ff0000"/>
<rect x="1000" y="81" width="1" height="38" fill="#ff0000"/>
<rect x="999" y="97" width="3" height="17" fill="#ff0000"/>
<rect x="1003" y="84" width="1" height="36" fill="#0000cd"/>
<rect x="1002" y="88" width="3" height="26" fill="#0000cd"/>
<rect x="1007" y="70" width="1" height="47" fill="#ff0000"/>
<rect x="1006" y="87" width="3" height="19" fill="#ff0000"/>
<rect x="1011" y="85" width="1" height="57" fill="#0000cd"/>
<rect x="1010" y="99" width="3" height="7" fill="#0000cd"/>
<rect x="1015" y="91" width="1" height="24" fill="#ff0000"/>
<rect x="1014" y="99" width="3" height="10" fill="#ff0000"/>
</g>
<path d="M1015 201h1M1014 202h1M1013 203h1M1013 204h1M1012 205h1M1011 206h1M1010 207h1M1010 208h1M1009 209h1M1008 210h1M1007 211h1M1006 212h1M1006 213h1M1005 214h1M1004 215h1M1004 216h1M1003 217h1M1003 218h1M1002 219h1M1002 220h1M1001 221h1M1001 222h1M1000 223h1M999 224h1M999 225h1M998 226h1M998 227h1M997 228h1M996 229h1M996 230h1M995 231h1M995 232h1M994 233h1M994 234h1M993 235h1M993 236h1M992 237h1M992 238h1M991 239h1M991 240h1M990 241h1M990 242h1M989 243h1M989 244h1M988 245h1M988 246h1M987 247h1M987 248h1M986 249h1M986 250h1M985 251h1M985 252h1M984 253h1M984 254h1M983 255h1M983 256h1M982 257h1M982 258h1M981 259h1M981 260h1M980 261h1M979 262h1M979 263h1M978 264h1M978 265h1M977 266h1M977 267h1M976 268h1M976 269h1M975 270h1M975 271h1M974 272h1M973 273h1M972 274h1M972 275h1M971 276h1M970 277h1M970 278h1M969 279h1M968 280h1M967 281h1M967 282h1M966 283h1M721 284h14M965 284h1M718 285h3M735 285h7M965 285h1M715 286h3M742 286h6M964 286h1M713 287h2M748 287h2M963 287h1M710 288h3M750 288h3M963 288h1M708 289h2M753 289h2M962 289h1M705 290h3M755 290h3M961 290h1M704 291h1M758 291h1M960 291h1M701 292h3M759 292h3M959 292h1M699 293h2M762 293h1M959 293h1M695 294h4M763 294h2M958 294h1M692 295h3M765 295h1M957 295h1M689 296h3M766 296h1M956 296h1M688 297h1M767 297h1M955 297h1M685 298h3M768 298h2M954 298h1M684 299h1M770 299h1M954 299h1M681 300h3M771 300h1M953 300h1M680 301h1M772 301h1M952 301h1M677 302h3M773 302h1M952 302h1M10 303h1M676 303h1M774 303h1M951 303h1M11 304h2M674 304h2M775 304h1M950 304h1M13 305h2M672 305h2M776 305h1M948 305h2M15 306h1M670 306h2M777 306h1M947 306h1M16 307h1M669 307h1M778 307h1M945 307h2M17 308h1M667 308h2M779 308h1M943 308h2M18 309h1M666 309h1M780 309h1M942 309h1M18 310h1M664 310h2M781 310h2M939 310h3M19 311h1M663 311h1M783 311h1M935 311h4M20 312h1M662 312h1M784 312h1M916 312h19M21 313h1M661 313h1M785 313h1M911 313h5M22 314h1M659 314h2M786 314h1M906 314h5M22 315h1M658 315h1M787 315h1M903 315h3M23 316h1M422 316h4M655 316h3M788 316h2M900 316h3M24 317h1M404 317h18M426 317h1M637 317h6M654 317h1M790 317h1M898 317h2M24 318h1M402 318h2M427 318h3M630 318h7M643 318h11M791 318h1M895 318h3M25 319h1M401 319h1M430 319h1M622 319h8M792 319h1M893 319h2M26 320h1M399 320h2M431 320h1M615 320h7M793 320h2M890 320h3M27 321h1M398 321h1M432 321h1M612 321h3M795 321h1M888 321h2M28 322h1M396 322h2M433 322h1M604 322h8M796 322h2M886 322h2M29 323h1M395 323h1M434 323h1M602 323h2M798 323h1M885 323h1M30 324h2M393 324h2M435 324h2M600 324h2M799 324h1M884 324h1M32 325h1M391 325h2M437 325h1M599 325h1M800 325h1M883 325h1M33 326h1M390 326h1M438 326h1M597 326h2M801 326h2M881 326h2M34 327h1M389 327h1M439 327h1M596 327h1M803 327h1M880 327h1M35 328h2M387 328h2M440 328h1M595 328h1M804 328h1M878 328h2M37 329h1M386 329h1M441 329h1M594 329h1M805 329h1M877 329h1M38 330h3M384 330h2M442 330h1M592 330h2M806 330h2M875 330h2M41 331h1M383 331h1M442 331h1M591 331h1M808 331h1M873 331h2M42 332h2M382 332h1M443 332h1M590 332h1M809 332h3M871 332h2M44 333h2M381 333h1M444 333h1M588 333h2M812 333h1M870 333h1M46 334h1M380 334h1M445 334h1M587 334h1M813 334h4M867 334h3M47 335h1M379 335h1M445 335h1M585 335h2M817 335h3M866 335h1M48 336h2M65 336h10M378 336h1M446 336h1M583 336h2M820 336h4M864 336h2M50 337h1M64 337h1M75 337h3M377 337h1M447 337h1M582 337h1M824 337h2M862 337h2M51 338h2M61 338h3M78 338h3M376 338h1M448 338h1M579 338h3M826 338h3M860 338h2M53 339h2M58 339h3M81 339h2M375 339h1M448 339h1M578 339h1M829 339h3M859 339h1M55 340h3M83 340h1M374 340h1M449 340h1M575 340h3M832 340h3M857 340h2M84 341h2M373 341h1M450 341h1M549 341h5M573 341h2M835 341h2M854 341h3M86 342h1M373 342h1M451 342h1M543 342h6M554 342h3M570 342h3M837 342h6M849 342h5M87 343h1M372 343h1M452 343h1M541 343h2M557 343h2M565 343h5M843 343h6M88 344h1M371 344h1M453 344h1M538 344h3M559 344h6M89 345h1M370 345h1M454 345h1M535 345h3M90 346h2M369 346h1M455 346h1M519 346h6M530 346h5M92 347h1M368 347h1M456 347h1M518 347h1M525 347h5M93 348h1M368 348h1M457 348h1M515 348h3M94 349h1M367 349h1M458 349h1M514 349h1M95 350h3M366 350h1M459 350h1M511 350h3M98 351h1M366 351h1M460 351h2M509 351h2M99 352h4M365 352h1M462 352h3M506 352h3M103 353h3M364 353h1M465 353h2M504 353h2M106 354h4M363 354h1M467 354h4M482 354h22M110 355h1M362 355h1M471 355h3M479 355h3M111 356h3M362 356h1M474 356h5M114 357h1M361 357h1M115 358h3M360 358h1M118 359h1M360 359h1M119 360h3M359 360h1M122 361h4M358 361h1M126 362h6M357 362h1M132 363h3M357 363h1M135 364h3M356 364h1M138 365h1M355 365h1M139 366h3M355 366h1M142 367h2M354 367h1M144 368h3M353 368h1M147 369h2M353 369h1M149 370h3M352 370h1M152 371h1M351 371h1M153 372h3M351 372h1M156 373h1M350 373h1M157 374h2M349 374h1M159 375h1M349 375h1M160 376h1M348 376h1M161 377h1M347 377h1M162 378h1M347 378h1M163 379h1M346 379h1M164 380h1M345 380h1M164 381h1M344 381h1M165 382h1M343 382h1M166 383h1M343 383h1M166 384h1M342 384h1M167 385h1M341 385h1M168 386h1M339 386h2M169 387h1M336 387h3M169 388h1M334 388h2M170 389h1M332 389h2M171 390h1M331 390h1M172 391h1M329 391h2M173 392h1M328 392h1M174 393h1M327 393h1M175 394h1M326 394h1M176 395h1M325 395h1M177 396h3M324 396h1M180 397h1M323 397h1M181 398h3M322 398h1M184 399h1M321 399h1M185 400h3M320 400h1M188 401h1M319 401h1M189 402h2M318 402h1M191 403h1M317 403h1M192 404h2M316 404h1M194 405h1M315 405h1M195 406h2M314 406h1M197 407h1M313 407h1M198 408h2M312 408h1M200 409h6M311 409h1M206 410h9M310 410h1M215 411h3M309 411h1M218 412h3M307 412h2M221 413h1M306 413h1M222 414h2M305 414h1M224 415h1M304 415h1M225 416h1M302 416h2M226 417h1M300 417h2M227 418h1M298 418h2M228 419h1M297 419h1M229 420h1M296 420h1M230 421h1M295 421h1M231 422h1M294 422h1M232 423h1M293 423h1M233 424h1M292 424h1M234 425h1M292 425h1M235 426h1M291 426h1M236 427h1M290 427h1M237 428h1M289 428h1M238 429h1M288 429h1M239 430h1M287 430h1M240 431h1M286 431h1M241 432h2M286 432h1M243 433h1M285 433h1M244 434h1M284 434h1M245 435h1M284 435h1M246 436h1M283 436h1M247 437h1M282 437h1M248 438h1M281 438h1M249 439h1M280 439h1M250 440h1M279 440h1M251 441h1M279 441h1M252 442h1M278 442h1M253 443h2M277 443h1M255 444h2M276 444h1M257 445h2M275 445h1M259 446h3M273 446h2M262 447h3M272 447h1M265 448h7" transform="translate(0,0.5)" fill="none" stroke="#a02626" stroke-width="1" shape-rendering="crispEdges"/>
<g shape-rendering="crispEdges" fill="#000">
<rect x="1" y="30" width="1025" height="1"/>
<rect x="1" y="544" width="1025" height="1"/>
<rect x="1" y="30" width="1" height="515"/>
<rect x="1025" y="30" width="1" height="515"/>
<rect x="0" y="37" width="1" height="1"/>
<rect x="1026" y="37" width="1" height="1"/>
<rect x="0" y="46" width="1" height="1"/>
<rect x="1026" y="46" width="1" height="1"/>
<rect x="0" y="66" width="1" height="1"/>
<rect x="1026" y="66" width="1" height="1"/>
<rect x="0" y="75" width="1" height="1"/>
<rect x="1026" y="75" width="1" height="1"/>
<rect x="0" y="84" width="1" height="1"/>
<rect x="1026" y="84" width="1" height="1"/>
<rect x="0" y="93" width="1" height="1"/>
<rect x="1026" y="93" width="1" height="1"/>
<rect x="0" y="112" width="1" height="1"/>
<rect x="1026" y="112" width="1" height="1"/>
<rect x="0" y="121" width="1" height="1"/>
<rect x="1026" y="121" width="1" height="1"/>
<rect x="0" y="130" width="1" height="1"/>
<rect x="1026" y="130" width="1" height="1"/>
<rect x="0" y="139" width="1" height="1"/>
<rect x="1026" y="139" width="1" height="1"/>
<rect x="0" y="159" width="1" height="1"/>
<rect x="1026" y="159" width="1" height="1"/>
<rect x="0" y="168" width="1" height="1"/>
<rect x="1026" y="168" width="1" height="1"/>
<rect x="0" y="177" width="1" height="1"/>
<rect x="1026" y="177" width="1" height="1"/>
<rect x="0" y="186" width="1" height="1"/>
<rect x="1026" y="186" width="1" height="1"/>
<rect x="0" y="205" width="1" height="1"/>
<rect x="1026" y="205" width="1" height="1"/>
<rect x="0" y="214" width="1" height="1"/>
<rect x="1026" y="214" width="1" height="1"/>
<rect x="0" y="223" width="1" height="1"/>
<rect x="1026" y="223" width="1" height="1"/>
<rect x="0" y="232" width="1" height="1"/>
<rect x="1026" y="232" width="1" height="1"/>
<rect x="0" y="252" width="1" height="1"/>
<rect x="1026" y="252" width="1" height="1"/>
<rect x="0" y="261" width="1" height="1"/>
<rect x="1026" y="261" width="1" height="1"/>
<rect x="0" y="270" width="1" height="1"/>
<rect x="1026" y="270" width="1" height="1"/>
<rect x="0" y="279" width="1" height="1"/>
<rect x="1026" y="279" width="1" height="1"/>
<rect x="0" y="298" width="1" height="1"/>
<rect x="1026" y="298" width="1" height="1"/>
<rect x="0" y="307" width="1" height="1"/>
<rect x="1026" y="307" width="1" height="1"/>
<rect x="0" y="316" width="1" height="1"/>
<rect x="1026" y="316" width="1" height="1"/>
<rect x="0" y="325" width="1" height="1"/>
<rect x="1026" y="325" width="1" height="1"/>
<rect x="0" y="345" width="1" height="1"/>
<rect x="1026" y="345" width="1" height="1"/>
<rect x="0" y="354" width="1" height="1"/>
<rect x="1026" y="354" width="1" height="1"/>
<rect x="0" y="363" width="1" height="1"/>
<rect x="1026" y="363" width="1" height="1"/>
<rect x="0" y="372" width="1" height="1"/>
<rect x="1026" y="372" width="1" height="1"/>
<rect x="0" y="391" width="1" height="1"/>
<rect x="1026" y="391" width="1" height="1"/>
<rect x="0" y="400" width="1" height="1"/>
<rect x="1026" y="400" width="1" height="1"/>
<rect x="0" y="409" width="1" height="1"/>
<rect x="1026" y="409" width="1" height="1"/>
<rect x="0" y="418" width="1" height="1"/>
<rect x="1026" y="418" width="1" height="1"/>
<rect x="0" y="438" width="1" height="1"/>
<rect x="1026" y="438" width="1" height="1"/>
<rect x="0" y="447" width="1" height="1"/>
<rect x="1026" y="447" width="1" height="1"/>
<rect x="0" y="456" width="1" height="1"/>
<rect x="1026" y="456" width="1" height="1"/>
<rect x="0" y="465" width="1" height="1"/>
<rect x="1026" y="465" width="1" height="1"/>
<rect x="0" y="484" width="1" height="1"/>
<rect x="1026" y="484" width="1" height="1"/>
<rect x="0" y="493" width="1" height="1"/>
<rect x="1026" y="493" width="1" height="1"/>
<rect x="0" y="502" width="1" height="1"/>
<rect x="1026" y="502" width="1" height="1"/>
<rect x="0" y="511" width="1" height="1"/>
<rect x="1026" y="511" width="1" height="1"/>
<rect x="0" y="531" width="1" height="1"/>
<rect x="1026" y="531" width="1" height="1"/>
<rect x="0" y="540" width="1" height="1"/>
<rect x="1026" y="540" width="1" height="1"/>
<rect x="0" y="57" width="1" height="1"/>
<rect x="1026" y="57" width="2" height="1"/>
<rect x="0" y="103" width="1" height="1"/>
<rect x="1026" y="103" width="2" height="1"/>
<rect x="0" y="150" width="1" height="1"/>
<rect x="1026" y="150" width="2" height="1"/>
<rect x="0" y="196" width="1" height="1"/>
<rect x="1026" y="196" width="2" height="1"/>
<rect x="0" y="243" width="1" height="1"/>
<rect x="1026" y="243" width="2" height="1"/>
<rect x="0" y="289" width="1" height="1"/>
<rect x="1026" y="289" width="2" height="1"/>
<rect x="0" y="336" width="1" height="1"/>
<rect x="1026" y="336" width="2" height="1"/>
<rect x="0" y="382" width="1" height="1"/>
<rect x="1026" y="382" width="2" height="1"/>
<rect x="0" y="429" width="1" height="1"/>
<rect x="1026" y="429" width="2" height="1"/>
<rect x="0" y="475" width="1" height="1"/>
<rect x="1026" y="475" width="2" height="1"/>
<rect x="0" y="522" width="1" height="1"/>
<rect x="1026" y="522" width="2" height="1"/>
<rect x="10" y="545" width="1" height="4"/>
<rect x="56" y="545" width="1" height="4"/>
<rect x="107" y="545" width="1" height="4"/>
<rect x="157" y="545" width="1" height="4"/>
<rect x="207" y="545" width="1" height="4"/>
<rect x="257" y="545" width="1" height="4"/>
<rect x="308" y="545" width="1" height="4"/>
<rect x="358" y="545" width="1" height="4"/>
<rect x="408" y="545" width="1" height="4"/>
<rect x="458" y="545" width="1" height="4"/>
<rect x="509" y="545" width="1" height="4"/>
<rect x="559" y="545" width="1" height="4"/>
<rect x="609" y="545" width="1" height="4"/>
<rect x="659" y="545" width="1" height="4"/>
<rect x="710" y="545" width="1" height="4"/>
<rect x="760" y="545" width="1" height="4"/>
<rect x="810" y="545" width="1" height="4"/>
<rect x="864" y="545" width="1" height="4"/>
<rect x="911" y="545" width="1" height="4"/>
<rect x="961" y="545" width="1" height="4"/>
<rect x="1015" y="545" width="1" height="4"/>
</g>
<text x="10.40" y="21.00" font-size="16.6" fill="#000" stroke="#000" stroke-width="0.2" textLength="60.60" lengthAdjust="spacingAndGlyphs">London</text>
<text x="76.60" y="21.00" font-size="16.6" fill="#000" stroke="#000" stroke-width="0.2" textLength="35.80" lengthAdjust="spacingAndGlyphs">Spot</text>
<text x="119.00" y="21.00" font-size="16.6" fill="#000" stroke="#000" stroke-width="0.2" textLength="37.00" lengthAdjust="spacingAndGlyphs">Gold</text>
<text x="162.30" y="21.00" font-size="16.6" fill="#000" stroke="#000" stroke-width="0.2" textLength="65.30" lengthAdjust="spacingAndGlyphs">(GOLDS</text>
<text x="233.30" y="21.00" font-size="16.6" fill="#000" stroke="#000" stroke-width="0.2" textLength="79.50" lengthAdjust="spacingAndGlyphs">COMDTY)</text>
<text x="319.00" y="21.00" font-size="16.6" fill="#000" stroke="#000" stroke-width="0.2" textLength="68.60" lengthAdjust="spacingAndGlyphs">1493.54</text>
<text x="394.30" y="21.00" font-size="16.6" fill="#ff0000" stroke="#ff0000" stroke-width="0.2" textLength="55.30" lengthAdjust="spacingAndGlyphs">-11.21</text>
<text x="984.60" y="20.00" font-size="15" fill="#000" stroke="#000" stroke-width="0.2" textLength="89.40" lengthAdjust="spacingAndGlyphs">2019-10-07</text>
<text x="9.40" y="45.00" font-size="13.5" fill="#0000e0" textLength="50.40" lengthAdjust="spacingAndGlyphs">Weekly</text>
<text x="9.50" y="65.00" font-size="13.5" fill="#a52a2a" textLength="61.60" lengthAdjust="spacingAndGlyphs">EMA 200</text>
<text x="1030.80" y="62.00" font-size="12" fill="#000" stroke="#000" stroke-width="0.12" textLength="31.20" lengthAdjust="spacingAndGlyphs">1550</text>
<text x="1030.80" y="108.00" font-size="12" fill="#000" stroke="#000" stroke-width="0.12" textLength="31.20" lengthAdjust="spacingAndGlyphs">1500</text>
<text x="1030.80" y="155.00" font-size="12" fill="#000" stroke="#000" stroke-width="0.12" textLength="31.20" lengthAdjust="spacingAndGlyphs">1450</text>
<text x="1030.80" y="201.00" font-size="12" fill="#000" stroke="#000" stroke-width="0.12" textLength="31.20" lengthAdjust="spacingAndGlyphs">1400</text>
<text x="1030.80" y="248.00" font-size="12" fill="#000" stroke="#000" stroke-width="0.12" textLength="31.20" lengthAdjust="spacingAndGlyphs">1350</text>
<text x="1030.80" y="294.00" font-size="12" fill="#000" stroke="#000" stroke-width="0.12" textLength="31.20" lengthAdjust="spacingAndGlyphs">1300</text>
<text x="1030.80" y="341.00" font-size="12" fill="#000" stroke="#000" stroke-width="0.12" textLength="31.20" lengthAdjust="spacingAndGlyphs">1250</text>
<text x="1030.80" y="387.00" font-size="12" fill="#000" stroke="#000" stroke-width="0.12" textLength="31.20" lengthAdjust="spacingAndGlyphs">1200</text>
<text x="1030.80" y="434.00" font-size="12" fill="#000" stroke="#000" stroke-width="0.12" textLength="31.20" lengthAdjust="spacingAndGlyphs">1150</text>
<text x="1030.80" y="480.00" font-size="12" fill="#000" stroke="#000" stroke-width="0.12" textLength="31.20" lengthAdjust="spacingAndGlyphs">1100</text>
<text x="1030.80" y="527.00" font-size="12" fill="#000" stroke="#000" stroke-width="0.12" textLength="31.20" lengthAdjust="spacingAndGlyphs">1050</text>
<text x="58.20" y="563.00" font-size="12" fill="#000" text-anchor="middle" stroke="#000" stroke-width="0.12">2015</text>
<text x="109.20" y="563.00" font-size="12" fill="#000" text-anchor="middle" stroke="#000" stroke-width="0.12">Apr</text>
<text x="159.20" y="563.00" font-size="12" fill="#000" text-anchor="middle" stroke="#000" stroke-width="0.12">Jul</text>
<text x="209.20" y="563.00" font-size="12" fill="#000" text-anchor="middle" stroke="#000" stroke-width="0.12">Oct</text>
<text x="259.20" y="563.00" font-size="12" fill="#000" text-anchor="middle" stroke="#000" stroke-width="0.12">2016</text>
<text x="310.20" y="563.00" font-size="12" fill="#000" text-anchor="middle" stroke="#000" stroke-width="0.12">Apr</text>
<text x="360.20" y="563.00" font-size="12" fill="#000" text-anchor="middle" stroke="#000" stroke-width="0.12">Jul</text>
<text x="410.20" y="563.00" font-size="12" fill="#000" text-anchor="middle" stroke="#000" stroke-width="0.12">Oct</text>
<text x="460.20" y="563.00" font-size="12" fill="#000" text-anchor="middle" stroke="#000" stroke-width="0.12">2017</text>
<text x="511.20" y="563.00" font-size="12" fill="#000" text-anchor="middle" stroke="#000" stroke-width="0.12">Apr</text>
<text x="561.20" y="563.00" font-size="12" fill="#000" text-anchor="middle" stroke="#000" stroke-width="0.12">Jul</text>
<text x="611.20" y="563.00" font-size="12" fill="#000" text-anchor="middle" stroke="#000" stroke-width="0.12">Oct</text>
<text x="661.20" y="563.00" font-size="12" fill="#000" text-anchor="middle" stroke="#000" stroke-width="0.12">2018</text>
<text x="712.20" y="563.00" font-size="12" fill="#000" text-anchor="middle" stroke="#000" stroke-width="0.12">Apr</text>
<text x="762.20" y="563.00" font-size="12" fill="#000" text-anchor="middle" stroke="#000" stroke-width="0.12">Jul</text>
<text x="812.20" y="563.00" font-size="12" fill="#000" text-anchor="middle" stroke="#000" stroke-width="0.12">Oct</text>
<text x="866.20" y="563.00" font-size="12" fill="#000" text-anchor="middle" stroke="#000" stroke-width="0.12">2019</text>
<text x="913.20" y="563.00" font-size="12" fill="#000" text-anchor="middle" stroke="#000" stroke-width="0.12">Apr</text>
<text x="963.20" y="563.00" font-size="12" fill="#000" text-anchor="middle" stroke="#000" stroke-width="0.12">Jul</text>
<text x="0.00" y="589.50" font-size="15" fill="#0000ff" textLength="212.00" lengthAdjust="spacingAndGlyphs">www.fullertreacymoney.com</text>
<text x="624.80" y="589.30" font-size="12" fill="#999999" textLength="449.00" lengthAdjust="spacingAndGlyphs">This website is © 2008-2019 Fuller Treacy Money plc. All rights reserved</text>
</svg></body></html>
